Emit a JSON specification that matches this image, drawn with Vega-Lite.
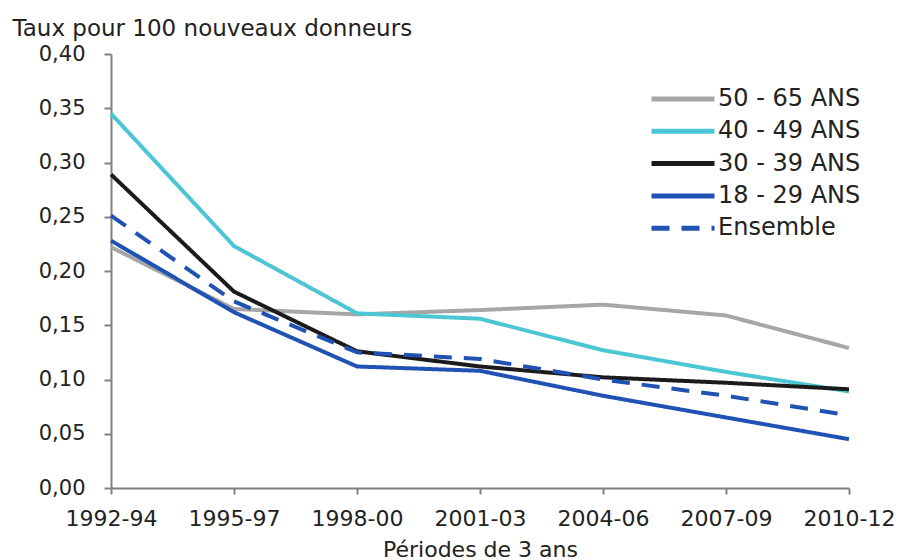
{
  "$schema": "https://vega.github.io/schema/vega-lite/v6.json",
  "autosize": {"type": "none"},
  "width": 738,
  "height": 434,
  "padding": {"left": 111, "top": 54, "right": 50, "bottom": 72},
  "background": "white",
  "config": {"view": {"stroke": null}},
  "data": {
    "values": [
      {"periode": "1992-94", "groupe": "50 - 65 ANS", "taux": 0.222},
      {"periode": "1995-97", "groupe": "50 - 65 ANS", "taux": 0.165},
      {"periode": "1998-00", "groupe": "50 - 65 ANS", "taux": 0.160},
      {"periode": "2001-03", "groupe": "50 - 65 ANS", "taux": 0.164},
      {"periode": "2004-06", "groupe": "50 - 65 ANS", "taux": 0.169},
      {"periode": "2007-09", "groupe": "50 - 65 ANS", "taux": 0.159},
      {"periode": "2010-12", "groupe": "50 - 65 ANS", "taux": 0.129},
      {"periode": "1992-94", "groupe": "40 - 49 ANS", "taux": 0.345},
      {"periode": "1995-97", "groupe": "40 - 49 ANS", "taux": 0.223},
      {"periode": "1998-00", "groupe": "40 - 49 ANS", "taux": 0.161},
      {"periode": "2001-03", "groupe": "40 - 49 ANS", "taux": 0.156},
      {"periode": "2004-06", "groupe": "40 - 49 ANS", "taux": 0.127},
      {"periode": "2007-09", "groupe": "40 - 49 ANS", "taux": 0.107},
      {"periode": "2010-12", "groupe": "40 - 49 ANS", "taux": 0.089},
      {"periode": "1992-94", "groupe": "30 - 39 ANS", "taux": 0.289},
      {"periode": "1995-97", "groupe": "30 - 39 ANS", "taux": 0.181},
      {"periode": "1998-00", "groupe": "30 - 39 ANS", "taux": 0.126},
      {"periode": "2001-03", "groupe": "30 - 39 ANS", "taux": 0.112},
      {"periode": "2004-06", "groupe": "30 - 39 ANS", "taux": 0.102},
      {"periode": "2007-09", "groupe": "30 - 39 ANS", "taux": 0.097},
      {"periode": "2010-12", "groupe": "30 - 39 ANS", "taux": 0.091},
      {"periode": "1992-94", "groupe": "18 - 29 ANS", "taux": 0.228},
      {"periode": "1995-97", "groupe": "18 - 29 ANS", "taux": 0.162},
      {"periode": "1998-00", "groupe": "18 - 29 ANS", "taux": 0.112},
      {"periode": "2001-03", "groupe": "18 - 29 ANS", "taux": 0.108},
      {"periode": "2004-06", "groupe": "18 - 29 ANS", "taux": 0.085},
      {"periode": "2007-09", "groupe": "18 - 29 ANS", "taux": 0.065},
      {"periode": "2010-12", "groupe": "18 - 29 ANS", "taux": 0.045},
      {"periode": "1992-94", "groupe": "Ensemble", "taux": 0.251},
      {"periode": "1995-97", "groupe": "Ensemble", "taux": 0.172},
      {"periode": "1998-00", "groupe": "Ensemble", "taux": 0.125},
      {"periode": "2001-03", "groupe": "Ensemble", "taux": 0.119},
      {"periode": "2004-06", "groupe": "Ensemble", "taux": 0.100},
      {"periode": "2007-09", "groupe": "Ensemble", "taux": 0.085},
      {"periode": "2010-12", "groupe": "Ensemble", "taux": 0.067}
    ]
  },
  "mark": {"type": "line", "strokeWidth": 4, "strokeCap": "butt", "strokeJoin": "miter"},
  "encoding": {
    "x": {
      "field": "periode",
      "type": "ordinal",
      "sort": null,
      "scale": {"type": "point", "padding": 0},
      "axis": {
        "labelAngle": 0,
        "labelFont": "DejaVu Sans",
        "labelFontSize": 22,
        "labelColor": "#222222",
        "labelPadding": 14,
        "tickSize": 6,
        "tickColor": "#808080",
        "tickWidth": 2,
        "domainColor": "#808080",
        "domainWidth": 2,
        "grid": false,
        "title": "Périodes de 3 ans",
        "titleFont": "DejaVu Sans",
        "titleFontSize": 22,
        "titleFontWeight": "normal",
        "titleColor": "#222222",
        "titleBaseline": "alphabetic",
        "titleY": 68
      }
    },
    "y": {
      "field": "taux",
      "type": "quantitative",
      "scale": {"domain": [0, 0.4], "nice": false},
      "axis": {
        "values": [0, 0.05, 0.1, 0.15, 0.2, 0.25, 0.3, 0.35, 0.4],
        "labelExpr": "replace(format(datum.value, '.2f'), '.', ',')",
        "labelFont": "DejaVu Sans",
        "labelFontSize": 21,
        "labelColor": "#222222",
        "labelPadding": 19,
        "tickSize": 7,
        "tickColor": "#808080",
        "tickWidth": 2,
        "domainColor": "#808080",
        "domainWidth": 2,
        "grid": false,
        "title": "Taux pour 100 nouveaux donneurs",
        "titleFont": "DejaVu Sans",
        "titleFontSize": 23,
        "titleFontWeight": "normal",
        "titleColor": "#222222",
        "titleAngle": 0,
        "titleAlign": "left",
        "titleBaseline": "alphabetic",
        "titleX": -99,
        "titleY": -19
      }
    },
    "color": {
      "field": "groupe",
      "type": "nominal",
      "sort": ["50 - 65 ANS", "40 - 49 ANS", "30 - 39 ANS", "18 - 29 ANS", "Ensemble"],
      "scale": {
        "domain": ["50 - 65 ANS", "40 - 49 ANS", "30 - 39 ANS", "18 - 29 ANS", "Ensemble"],
        "range": ["#a6a6a6", "#4cc6d4", "#1b1b1b", "#1f52b3", "#1f52b3"]
      },
      "legend": {
        "title": null,
        "orient": "none",
        "legendX": 559,
        "legendY": 32,
        "symbolType": "M-3,0H3",
        "symbolSize": 441,
        "symbolStrokeWidth": 5,
        "labelFont": "DejaVu Sans",
        "labelFontSize": 24,
        "labelColor": "#222222",
        "labelOffset": 22,
        "rowPadding": 7.3
      }
    },
    "strokeDash": {
      "field": "groupe",
      "type": "nominal",
      "sort": ["50 - 65 ANS", "40 - 49 ANS", "30 - 39 ANS", "18 - 29 ANS", "Ensemble"],
      "scale": {
        "domain": ["50 - 65 ANS", "40 - 49 ANS", "30 - 39 ANS", "18 - 29 ANS", "Ensemble"],
        "range": [[1, 0], [1, 0], [1, 0], [1, 0], [18, 12]]
      },
      "legend": {
        "title": null,
        "orient": "none",
        "legendX": 559,
        "legendY": 32,
        "symbolType": "M-3,0H3",
        "symbolSize": 441,
        "symbolStrokeWidth": 5,
        "labelFont": "DejaVu Sans",
        "labelFontSize": 24,
        "labelColor": "#222222",
        "labelOffset": 22,
        "rowPadding": 7.3
      }
    }
  }
}
